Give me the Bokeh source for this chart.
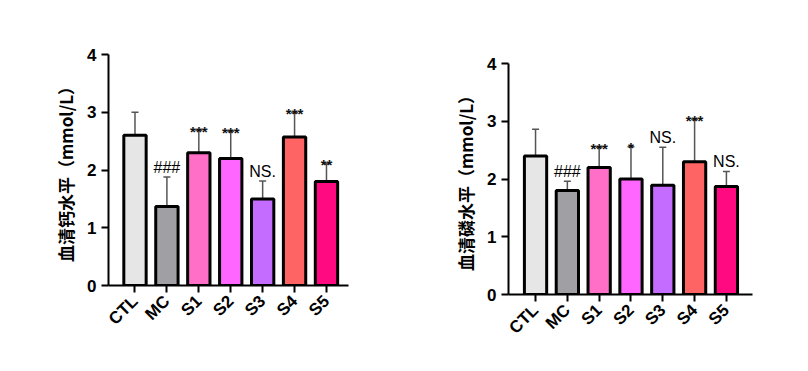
import numpy as np
from bokeh.plotting import figure
from bokeh.layouts import row, column
from bokeh.models import FixedTicker, ColumnDataSource, Range1d, Spacer
from bokeh.core.properties import value
from bokeh.embed import file_html
from bokeh.resources import INLINE

categories = ["CTL", "MC", "S1", "S2", "S3", "S4", "S5"]
colors = ["#e6e6e6", "#a0a0a4", "#ff6ec7", "#ff66ff", "#c46cff", "#ff6464", "#ff0a80"]

ca_mean = [2.60, 1.37, 2.30, 2.20, 1.50, 2.57, 1.80]
ca_err = [0.40, 0.51, 0.39, 0.47, 0.31, 0.42, 0.31]
ca_sig = ["", "###", "***", "***", "NS.", "***", "**"]

p_mean = [2.40, 1.80, 2.20, 2.00, 1.89, 2.30, 1.87]
p_err = [0.46, 0.16, 0.35, 0.56, 0.66, 0.73, 0.26]
p_sig = ["", "###", "***", "*", "NS.", "***", "NS."]

FONT = "Liberation Sans"


def make(means, errs, sigs, ylabel, xr, borders, w, h):
    bl, bt, br, bb = borders
    p = figure(width=w, height=h, output_backend="svg", toolbar_location=None,
               x_range=Range1d(*xr), y_range=Range1d(0, 4),
               min_border_left=bl, min_border_top=bt, min_border_right=br, min_border_bottom=bb)
    p.outline_line_color = None
    p.grid.visible = False
    x = list(range(len(categories)))
    tops = [m + e for m, e in zip(means, errs)]
    src = ColumnDataSource(dict(x=x, m=means, t=tops, c=colors, s=sigs,
                                l=[xi - 0.11 for xi in x], r=[xi + 0.11 for xi in x]))
    p.segment(x0="x", y0="m", x1="x", y1="t", source=src, line_color="#555555", line_width=1.5)
    p.segment(x0="l", y0="t", x1="r", y1="t", source=src, line_color="#555555", line_width=1.5)
    p.vbar(x="x", top="m", bottom=0, width=0.7, fill_color="c", line_color="black",
           line_width=3, source=src)
    big = [s if s in ("###", "NS.") else "" for s in sigs]
    small = [s if s not in ("###", "NS.") else "" for s in sigs]
    p.text(x=x, y=tops, text=big, text_align="center", text_baseline="bottom",
           text_font=value(FONT), text_font_size="16px", y_offset=-1, text_color="black")
    p.text(x=x, y=tops, text=small, text_align="center", text_baseline="alphabetic",
           text_font=value(FONT), text_font_size="15px", text_font_style="bold",
           y_offset=1, text_color="#111111")

    p.xaxis.ticker = FixedTicker(ticks=x)
    p.xaxis.major_label_overrides = {i: c for i, c in enumerate(categories)}
    p.xaxis.major_label_orientation = np.pi / 4
    p.yaxis.ticker = FixedTicker(ticks=[0, 1, 2, 3, 4])
    for ax in (p.xaxis, p.yaxis):
        ax.axis_line_width = 2
        ax.axis_line_color = "black"
        ax.major_tick_line_width = 2
        ax.major_tick_line_color = "black"
        ax.major_tick_out = 7
        ax.major_tick_in = 0
        ax.minor_tick_line_color = None
        ax.major_label_text_font = FONT
        ax.major_label_text_font_style = "bold"
        ax.major_label_text_font_size = "17px"
        ax.major_label_text_color = "black"
    p.xaxis.major_label_standoff = 6
    p.yaxis.major_label_standoff = 5
    p.yaxis.axis_label = ylabel
    p.yaxis.axis_label_text_font = "Noto Sans CJK SC"
    p.yaxis.axis_label_text_font_style = "bold"
    p.yaxis.axis_label_text_font_size = "17px"
    p.yaxis.axis_label_text_color = "black"
    p.yaxis.axis_label_standoff = 6
    return p


p1 = make(ca_mean, ca_err, ca_sig, "血清钙水平（mmol/L）", (-0.83, 6.69), (108, 54, 48, 70), 396, 355)
p2 = make(p_mean, p_err, p_sig, "血清磷水平（mmol/L）", (-0.85, 6.82), (112, 54, 40, 61), 396, 346)

layout = row(column(p1), column(Spacer(width=396, height=9), p2))
open("out.html", "w").write(file_html(layout, INLINE))
